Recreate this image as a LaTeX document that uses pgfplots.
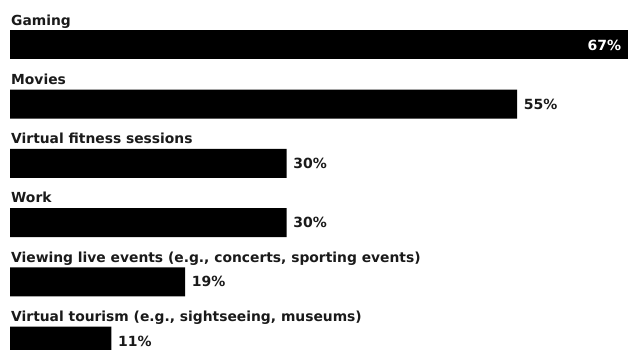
\documentclass[border=0pt]{standalone}
\usepackage{fontspec}
\setmainfont{DejaVu Sans}
\usepackage{pgfplots}
\pgfplotsset{compat=1.18}
\definecolor{txt}{HTML}{1A1A1A}
\begin{document}
\begin{tikzpicture}
\begin{axis}[
  scale only axis, width=628pt, height=350pt,
  hide axis,
  xmin=-1.085, xmax=67.03,
  ymin=-0.760, ymax=5.152, y dir=reverse,
  xbar, bar width=29pt, bar shift=0pt,
  clip=true,
  /pgf/number format/assume math mode=true,
  every node near coord/.append style={font=\bfseries\fontsize{14}{14}\selectfont, text=txt},
]
\addplot[fill=black, draw=none,
  nodes near coords={\pgfmathprintnumber{\pgfplotspointmeta}\%},
  nodes near coords align=horizontal,
  every node near coord/.append style={anchor=west, xshift=3.2pt}]
  coordinates {(55,1) (30,2) (30,3) (19,4) (11,5)};
\addplot[fill=black, draw=none,
  nodes near coords={\pgfmathprintnumber{\pgfplotspointmeta}\%},
  nodes near coords align=horizontal,
  every node near coord/.append style={anchor=east, xshift=-3pt, text=white}]
  coordinates {(67,0)};
\foreach \lab [count=\i from 0] in {Gaming,Movies,Virtual fitness sessions,Work,{Viewing live events (e.g., concerts, sporting events)},{Virtual tourism (e.g., sightseeing, museums)}}{
  \edef\tmp{\noexpand\node[anchor=base west, inner sep=0pt, xshift=1pt, text=txt, font=\noexpand\bfseries\noexpand\fontsize{13.85}{14}\noexpand\selectfont, yshift=19.8pt] at (axis cs:0,\i) {\lab};}
  \tmp
}
\end{axis}
\pgfresetboundingbox
\path[use as bounding box] (current axis.south west) rectangle (current axis.north east);
\end{tikzpicture}
\end{document}
